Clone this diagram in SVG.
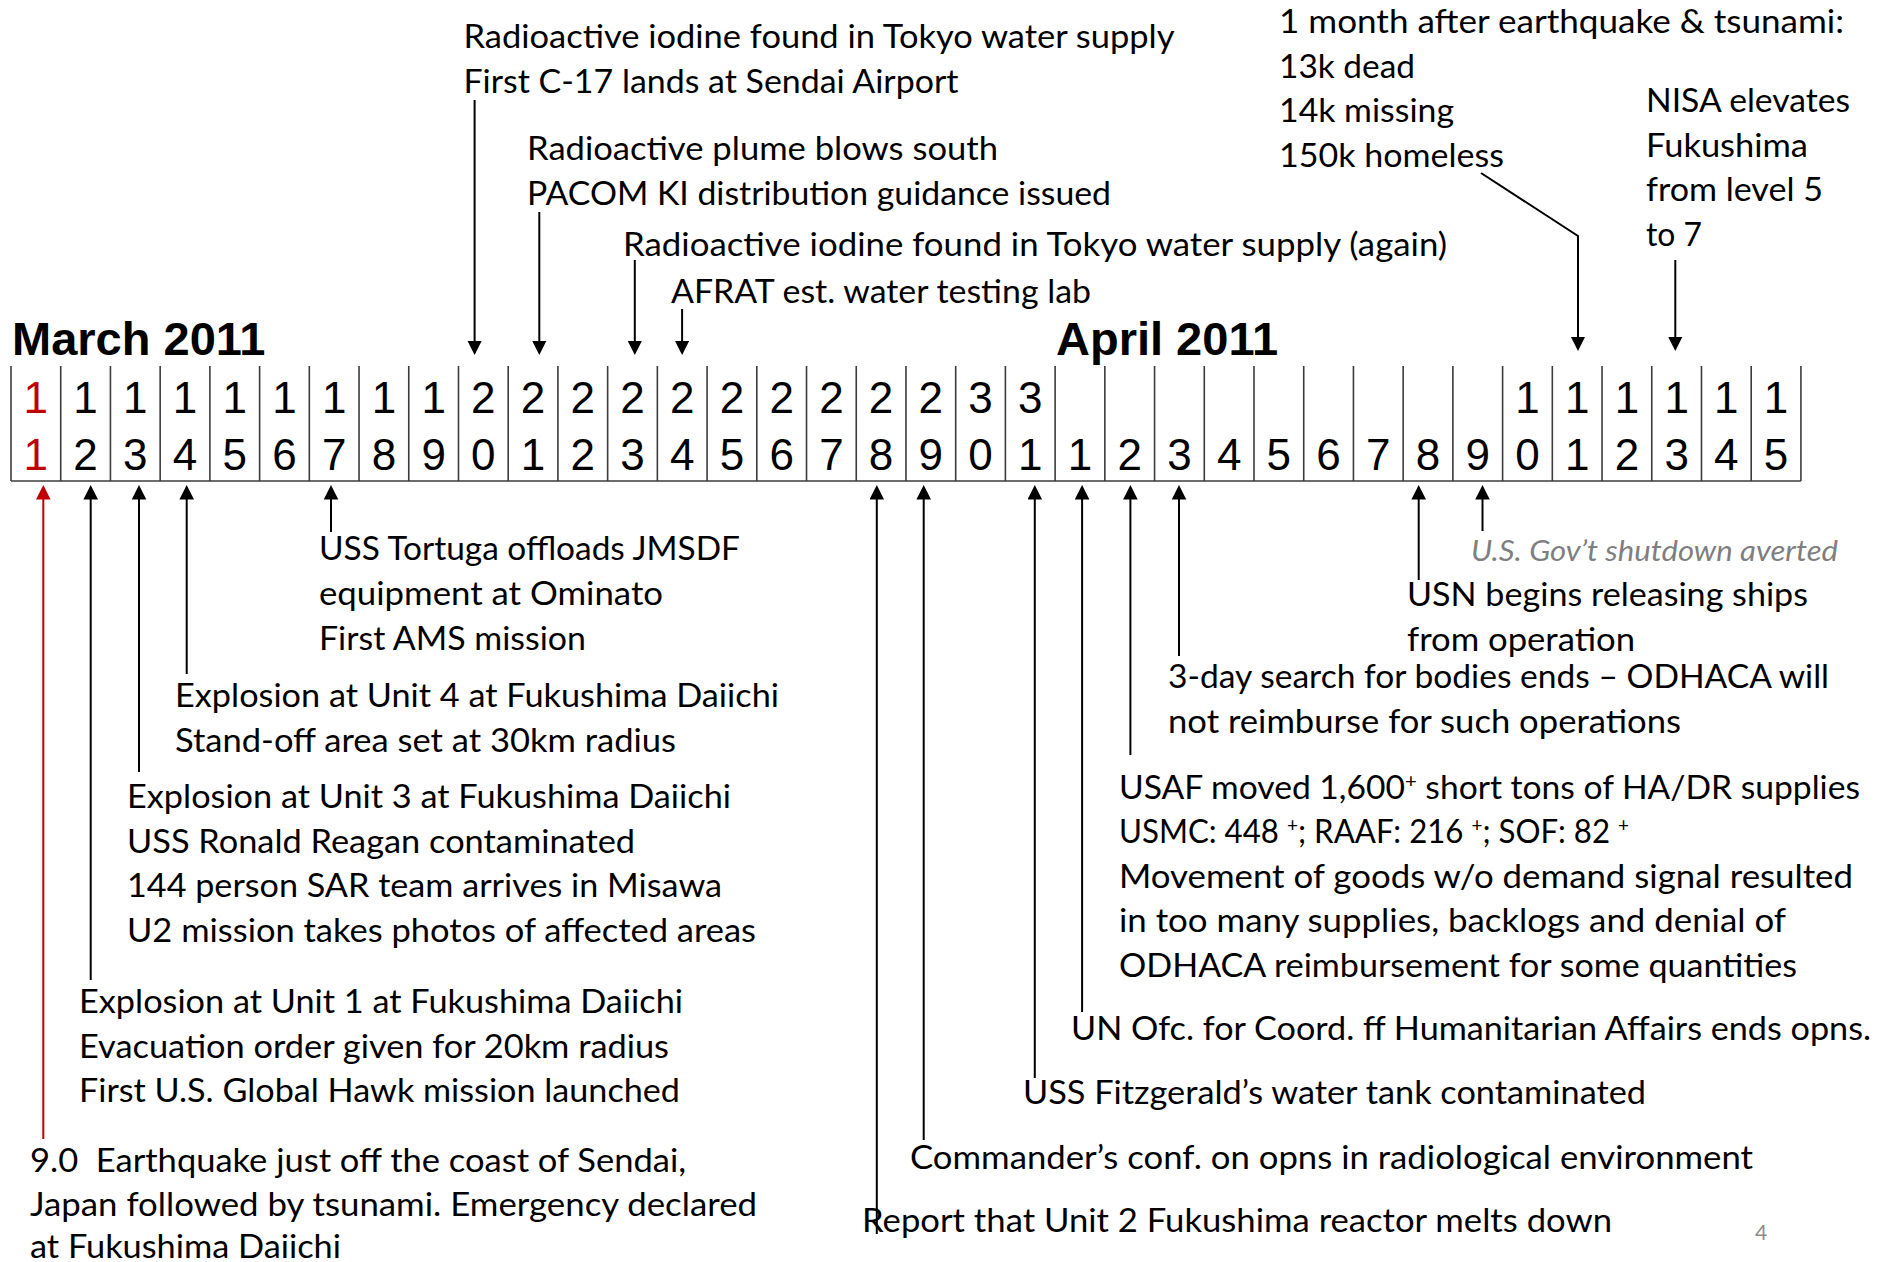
<svg xmlns="http://www.w3.org/2000/svg" width="1878" height="1262" viewBox="0 0 1878 1262">
<style>
.t{font-family:Lato,"Liberation Sans",sans-serif;font-size:33px;fill:#000}
.g{font-family:Lato,"Liberation Sans",sans-serif;font-size:28px;font-style:italic;fill:#7f7f7f}
.d{font-family:"Liberation Sans",Arial,sans-serif;font-size:44px;text-anchor:middle;fill:#000}
.r{fill:#c00000}
.m{font-family:"Liberation Sans",Arial,sans-serif;font-weight:bold;font-size:47px;fill:#000}
.grid line{stroke:#3c3c3c;stroke-width:1.6}
.c line,.c polyline{stroke:#000;stroke-width:2;fill:none;marker-end:url(#ah)}
.c line.red{stroke:#c00000;marker-end:url(#ahr)}
.pg{font-family:Lato,"Liberation Sans",sans-serif;font-size:21px;fill:#8c8c8c;text-anchor:middle}
</style>
<defs>
<marker id="ah" markerUnits="userSpaceOnUse" markerWidth="16" markerHeight="16" refX="11.5" refY="7.3" orient="auto"><path d="M0,0 L14.5,7.3 L0,14.6 z" fill="#000"/></marker>
<marker id="ahr" markerUnits="userSpaceOnUse" markerWidth="16" markerHeight="16" refX="11.5" refY="7.3" orient="auto"><path d="M0,0 L14.5,7.3 L0,14.6 z" fill="#c00000"/></marker>
</defs>
<rect width="1878" height="1262" fill="#fff"/>

<g id="month-march"><text class="m" x="12" y="355">March 2011</text></g>
<g id="month-april"><text class="m" x="1056" y="355">April 2011</text></g>

<g id="calendar-grid" class="grid">
<line x1="11" y1="481" x2="1800.9" y2="481"/>
<line x1="11" y1="366" x2="11" y2="481"/>
<line x1="60.72" y1="366" x2="60.72" y2="481"/>
<line x1="110.44" y1="366" x2="110.44" y2="481"/>
<line x1="160.16" y1="366" x2="160.16" y2="481"/>
<line x1="209.88" y1="366" x2="209.88" y2="481"/>
<line x1="259.6" y1="366" x2="259.6" y2="481"/>
<line x1="309.32" y1="366" x2="309.32" y2="481"/>
<line x1="359.04" y1="366" x2="359.04" y2="481"/>
<line x1="408.76" y1="366" x2="408.76" y2="481"/>
<line x1="458.48" y1="366" x2="458.48" y2="481"/>
<line x1="508.2" y1="366" x2="508.2" y2="481"/>
<line x1="557.92" y1="366" x2="557.92" y2="481"/>
<line x1="607.64" y1="366" x2="607.64" y2="481"/>
<line x1="657.36" y1="366" x2="657.36" y2="481"/>
<line x1="707.08" y1="366" x2="707.08" y2="481"/>
<line x1="756.8" y1="366" x2="756.8" y2="481"/>
<line x1="806.52" y1="366" x2="806.52" y2="481"/>
<line x1="856.24" y1="366" x2="856.24" y2="481"/>
<line x1="905.96" y1="366" x2="905.96" y2="481"/>
<line x1="955.68" y1="366" x2="955.68" y2="481"/>
<line x1="1005.4" y1="366" x2="1005.4" y2="481"/>
<line x1="1055.12" y1="366" x2="1055.12" y2="481"/>
<line x1="1104.84" y1="366" x2="1104.84" y2="481"/>
<line x1="1154.56" y1="366" x2="1154.56" y2="481"/>
<line x1="1204.28" y1="366" x2="1204.28" y2="481"/>
<line x1="1254" y1="366" x2="1254" y2="481"/>
<line x1="1303.72" y1="366" x2="1303.72" y2="481"/>
<line x1="1353.44" y1="366" x2="1353.44" y2="481"/>
<line x1="1403.16" y1="366" x2="1403.16" y2="481"/>
<line x1="1452.88" y1="366" x2="1452.88" y2="481"/>
<line x1="1502.6" y1="366" x2="1502.6" y2="481"/>
<line x1="1552.32" y1="366" x2="1552.32" y2="481"/>
<line x1="1602.04" y1="366" x2="1602.04" y2="481"/>
<line x1="1651.76" y1="366" x2="1651.76" y2="481"/>
<line x1="1701.48" y1="366" x2="1701.48" y2="481"/>
<line x1="1751.2" y1="366" x2="1751.2" y2="481"/>
<line x1="1800.92" y1="366" x2="1800.92" y2="481"/>
</g>

<g id="calendar-days">
<text class="d r" x="35.86" y="413">1</text><text class="d r" x="35.86" y="470">1</text>
<text class="d" x="85.58" y="413">1</text><text class="d" x="85.58" y="470">2</text>
<text class="d" x="135.3" y="413">1</text><text class="d" x="135.3" y="470">3</text>
<text class="d" x="185.02" y="413">1</text><text class="d" x="185.02" y="470">4</text>
<text class="d" x="234.74" y="413">1</text><text class="d" x="234.74" y="470">5</text>
<text class="d" x="284.46" y="413">1</text><text class="d" x="284.46" y="470">6</text>
<text class="d" x="334.18" y="413">1</text><text class="d" x="334.18" y="470">7</text>
<text class="d" x="383.9" y="413">1</text><text class="d" x="383.9" y="470">8</text>
<text class="d" x="433.62" y="413">1</text><text class="d" x="433.62" y="470">9</text>
<text class="d" x="483.34" y="413">2</text><text class="d" x="483.34" y="470">0</text>
<text class="d" x="533.06" y="413">2</text><text class="d" x="533.06" y="470">1</text>
<text class="d" x="582.78" y="413">2</text><text class="d" x="582.78" y="470">2</text>
<text class="d" x="632.5" y="413">2</text><text class="d" x="632.5" y="470">3</text>
<text class="d" x="682.22" y="413">2</text><text class="d" x="682.22" y="470">4</text>
<text class="d" x="731.94" y="413">2</text><text class="d" x="731.94" y="470">5</text>
<text class="d" x="781.66" y="413">2</text><text class="d" x="781.66" y="470">6</text>
<text class="d" x="831.38" y="413">2</text><text class="d" x="831.38" y="470">7</text>
<text class="d" x="881.1" y="413">2</text><text class="d" x="881.1" y="470">8</text>
<text class="d" x="930.82" y="413">2</text><text class="d" x="930.82" y="470">9</text>
<text class="d" x="980.54" y="413">3</text><text class="d" x="980.54" y="470">0</text>
<text class="d" x="1030.26" y="413">3</text><text class="d" x="1030.26" y="470">1</text>
<text class="d" x="1079.98" y="470">1</text>
<text class="d" x="1129.7" y="470">2</text>
<text class="d" x="1179.42" y="470">3</text>
<text class="d" x="1229.14" y="470">4</text>
<text class="d" x="1278.86" y="470">5</text>
<text class="d" x="1328.58" y="470">6</text>
<text class="d" x="1378.3" y="470">7</text>
<text class="d" x="1428.02" y="470">8</text>
<text class="d" x="1477.74" y="470">9</text>
<text class="d" x="1527.46" y="413">1</text><text class="d" x="1527.46" y="470">0</text>
<text class="d" x="1577.18" y="413">1</text><text class="d" x="1577.18" y="470">1</text>
<text class="d" x="1626.9" y="413">1</text><text class="d" x="1626.9" y="470">2</text>
<text class="d" x="1676.62" y="413">1</text><text class="d" x="1676.62" y="470">3</text>
<text class="d" x="1726.34" y="413">1</text><text class="d" x="1726.34" y="470">4</text>
<text class="d" x="1776.06" y="413">1</text><text class="d" x="1776.06" y="470">5</text>
</g>

<g id="connectors" class="c">
<line x1="474.6" y1="100" x2="474.6" y2="352"/>
<line x1="539.3" y1="212" x2="539.3" y2="352"/>
<line x1="634.8" y1="260" x2="634.8" y2="352"/>
<line x1="682.1" y1="309" x2="682.1" y2="352"/>
<polyline points="1481,173 1578,236 1578,348"/>
<line x1="1675.3" y1="260" x2="1675.3" y2="348"/>
<line class="red" x1="43.3" y1="1139" x2="43.3" y2="488"/>
<line x1="90.7" y1="980" x2="90.7" y2="488"/>
<line x1="139" y1="772" x2="139" y2="488"/>
<line x1="186.7" y1="674" x2="186.7" y2="488"/>
<line x1="331" y1="532" x2="331" y2="488"/>
<line x1="876.8" y1="1234" x2="876.8" y2="488"/>
<line x1="923.7" y1="1140" x2="923.7" y2="488"/>
<line x1="1034.8" y1="1078" x2="1034.8" y2="488"/>
<line x1="1082.1" y1="1012" x2="1082.1" y2="488"/>
<line x1="1130.4" y1="755" x2="1130.4" y2="488"/>
<line x1="1179" y1="656" x2="1179" y2="488"/>
<line x1="1418.7" y1="580" x2="1418.7" y2="488"/>
<line x1="1482.5" y1="531" x2="1482.5" y2="488"/>
</g>

<g id="ev-mar20">
<text class="t" x="463.5" y="48" textLength="711" lengthAdjust="spacingAndGlyphs">Radioactive iodine found in Tokyo water supply</text>
<text class="t" x="463.5" y="93" textLength="495" lengthAdjust="spacingAndGlyphs">First C-17 lands at Sendai Airport</text>
</g>
<g id="ev-mar21">
<text class="t" x="527" y="159.5" textLength="471" lengthAdjust="spacingAndGlyphs">Radioactive plume blows south</text>
<text class="t" x="527" y="204.5" textLength="584" lengthAdjust="spacingAndGlyphs">PACOM KI distribution guidance issued</text>
</g>
<g id="ev-mar23">
<text class="t" x="623" y="255.5" textLength="824" lengthAdjust="spacingAndGlyphs">Radioactive iodine found in Tokyo water supply (again)</text>
</g>
<g id="ev-mar24">
<text class="t" x="671" y="303" textLength="420" lengthAdjust="spacingAndGlyphs">AFRAT est. water testing lab</text>
</g>
<g id="ev-apr11">
<text class="t" x="1279" y="33" textLength="565" lengthAdjust="spacingAndGlyphs">1 month after earthquake &amp; tsunami:</text>
<text class="t" x="1279" y="77.5" textLength="136" lengthAdjust="spacingAndGlyphs">13k dead</text>
<text class="t" x="1279" y="122" textLength="175" lengthAdjust="spacingAndGlyphs">14k missing</text>
<text class="t" x="1279" y="166.5" textLength="225" lengthAdjust="spacingAndGlyphs">150k homeless</text>
</g>
<g id="ev-apr13">
<text class="t" x="1646" y="112" textLength="204" lengthAdjust="spacingAndGlyphs">NISA elevates</text>
<text class="t" x="1646" y="156.5" textLength="162" lengthAdjust="spacingAndGlyphs">Fukushima</text>
<text class="t" x="1646" y="201" textLength="177" lengthAdjust="spacingAndGlyphs">from level 5</text>
<text class="t" x="1646" y="245.5" textLength="56" lengthAdjust="spacingAndGlyphs">to 7</text>
</g>

<g id="ev-mar11">
<text class="t" x="30" y="1172" textLength="656" lengthAdjust="spacingAndGlyphs" xml:space="preserve">9.0  Earthquake just off the coast of Sendai,</text>
<text class="t" x="30" y="1216" textLength="727" lengthAdjust="spacingAndGlyphs">Japan followed by tsunami. Emergency declared</text>
<text class="t" x="30" y="1257.5" textLength="311" lengthAdjust="spacingAndGlyphs">at Fukushima Daiichi</text>
</g>
<g id="ev-mar12">
<text class="t" x="79" y="1013" textLength="604" lengthAdjust="spacingAndGlyphs">Explosion at Unit 1 at Fukushima Daiichi</text>
<text class="t" x="79" y="1057.5" textLength="590" lengthAdjust="spacingAndGlyphs">Evacuation order given for 20km radius</text>
<text class="t" x="79" y="1102" textLength="601" lengthAdjust="spacingAndGlyphs">First U.S. Global Hawk mission launched</text>
</g>
<g id="ev-mar13">
<text class="t" x="127" y="808" textLength="604" lengthAdjust="spacingAndGlyphs">Explosion at Unit 3 at Fukushima Daiichi</text>
<text class="t" x="127" y="852.5" textLength="508" lengthAdjust="spacingAndGlyphs">USS Ronald Reagan contaminated</text>
<text class="t" x="127" y="897" textLength="595" lengthAdjust="spacingAndGlyphs">144 person SAR team arrives in Misawa</text>
<text class="t" x="127" y="941.5" textLength="629" lengthAdjust="spacingAndGlyphs">U2 mission takes photos of affected areas</text>
</g>
<g id="ev-mar14">
<text class="t" x="175" y="707" textLength="604" lengthAdjust="spacingAndGlyphs">Explosion at Unit 4 at Fukushima Daiichi</text>
<text class="t" x="175" y="752" textLength="501" lengthAdjust="spacingAndGlyphs">Stand-off area set at 30km radius</text>
</g>
<g id="ev-mar17">
<text class="t" x="319" y="560" textLength="421" lengthAdjust="spacingAndGlyphs">USS Tortuga offloads JMSDF</text>
<text class="t" x="319" y="605" textLength="344" lengthAdjust="spacingAndGlyphs">equipment at Ominato</text>
<text class="t" x="319" y="650" textLength="267" lengthAdjust="spacingAndGlyphs">First AMS mission</text>
</g>
<g id="ev-mar28">
<text class="t" x="862" y="1232" textLength="750" lengthAdjust="spacingAndGlyphs">Report that Unit 2 Fukushima reactor melts down</text>
</g>
<g id="ev-mar29">
<text class="t" x="910" y="1168.5" textLength="843" lengthAdjust="spacingAndGlyphs">Commander’s conf. on opns in radiological environment</text>
</g>
<g id="ev-mar31">
<text class="t" x="1023" y="1104" textLength="623" lengthAdjust="spacingAndGlyphs">USS Fitzgerald’s water tank contaminated</text>
</g>
<g id="ev-apr1">
<text class="t" x="1071" y="1040" textLength="800" lengthAdjust="spacingAndGlyphs">UN Ofc. for Coord. ff Humanitarian Affairs ends opns.</text>
</g>
<g id="ev-apr2">
<text class="t" x="1119" y="798.5" textLength="741" lengthAdjust="spacingAndGlyphs">USAF moved 1,600<tspan dy="-11" font-size="20">+</tspan><tspan dy="11"> short tons of HA/DR supplies</tspan></text>
<text class="t" x="1119" y="843" textLength="510" lengthAdjust="spacingAndGlyphs" xml:space="preserve">USMC: 448 <tspan dy="-11" font-size="20">+</tspan><tspan dy="11">; RAAF: 216 </tspan><tspan dy="-11" font-size="20">+</tspan><tspan dy="11">; SOF: 82 </tspan><tspan dy="-11" font-size="20">+</tspan></text>
<text class="t" x="1119" y="887.5" textLength="734" lengthAdjust="spacingAndGlyphs">Movement of goods w/o demand signal resulted</text>
<text class="t" x="1119" y="932" textLength="667" lengthAdjust="spacingAndGlyphs">in too many supplies, backlogs and denial of</text>
<text class="t" x="1119" y="976.5" textLength="678" lengthAdjust="spacingAndGlyphs">ODHACA reimbursement for some quantities</text>
</g>
<g id="ev-apr3">
<text class="t" x="1168" y="688" textLength="661" lengthAdjust="spacingAndGlyphs">3-day search for bodies ends – ODHACA will</text>
<text class="t" x="1168" y="733" textLength="513" lengthAdjust="spacingAndGlyphs">not reimburse for such operations</text>
</g>
<g id="ev-apr8">
<text class="t" x="1407" y="606" textLength="401" lengthAdjust="spacingAndGlyphs">USN begins releasing ships</text>
<text class="t" x="1407" y="651" textLength="228" lengthAdjust="spacingAndGlyphs">from operation</text>
</g>
<g id="ev-apr9">
<text class="g" x="1471" y="561" textLength="367" lengthAdjust="spacingAndGlyphs">U.S. Gov’t shutdown averted</text>
</g>
<g id="page-number"><text class="pg" x="1761" y="1240">4</text></g>
</svg>
